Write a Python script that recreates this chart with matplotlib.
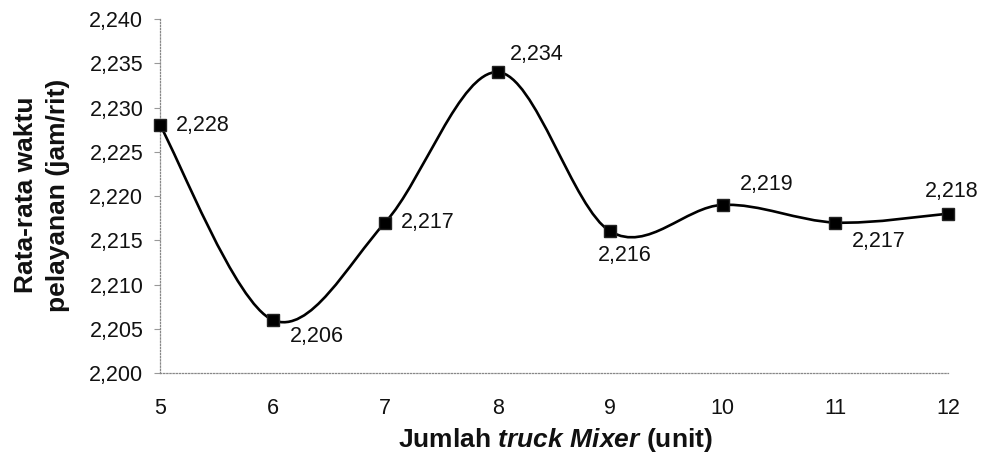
import numpy as np
import matplotlib
matplotlib.use("Agg")
import matplotlib.pyplot as plt
from matplotlib.path import Path
from matplotlib.patches import PathPatch

plt.rcParams['font.family'] = ['Liberation Sans', 'DejaVu Sans']
plt.rcParams['mathtext.fontset'] = 'custom'
plt.rcParams['mathtext.it'] = 'Liberation Sans:bold:italic'
plt.rcParams['mathtext.rm'] = 'Liberation Sans:bold'
plt.rcParams['mathtext.bf'] = 'Liberation Sans:bold'

# Data
jumlah_truck = [5, 6, 7, 8, 9, 10, 11, 12]
rata_waktu = [2.228, 2.206, 2.217, 2.234, 2.216, 2.219, 2.217, 2.218]
y_ticks = [2.200, 2.205, 2.210, 2.215, 2.220, 2.225, 2.230, 2.235, 2.240]
x_ticks = [5, 6, 7, 8, 9, 10, 11, 12]

# label placement (pixel offsets, horizontal alignment)
label_pos = [(16, 0, 'left'), (17, -17, 'left'), (16, 0, 'left'), (12, 18, 'left'),
             (-12, -24, 'left'), (17, 20, 'left'), (16, -19, 'left'), (-23, 22, 'left')]

fig = plt.figure(figsize=(9.84, 4.63), dpi=100)
ax = fig.add_axes([160/984, 1-373/463, 788/984, 354/463])
ax.set_xlim(5, 12)
ax.set_ylim(2.200, 2.240)

# Smoothed line: Catmull-Rom segments as cubic Beziers, computed in axes-scaled space
xs = np.array(jumlah_truck, dtype=float)
ys = np.array(rata_waktu, dtype=float)
sx, sy = 788 / 7.0, 354 / 0.040
P = np.column_stack([xs * sx, ys * sy])
verts = [tuple(P[0])]
codes = [Path.MOVETO]
n = len(P)
for i in range(n - 1):
    p0 = P[i - 1] if i > 0 else P[i]
    p1 = P[i]
    p2 = P[i + 1]
    p3 = P[i + 2] if i + 2 < n else P[i + 1]
    c1 = p1 + (p2 - p0) / 6.0
    c2 = p2 - (p3 - p1) / 6.0
    verts += [tuple(c1), tuple(c2), tuple(p2)]
    codes += [Path.CURVE4] * 3
verts = [(vx / sx, vy / sy) for vx, vy in verts]
ax.add_patch(PathPatch(Path(verts, codes), facecolor='none', edgecolor='black',
                       lw=1.9, zorder=2, clip_on=False))

ax.plot(jumlah_truck, rata_waktu, linestyle='none', marker='s', markersize=9,
        color='black', markeredgecolor='#222222', zorder=3, clip_on=False)

for x, y, (dx, dy, ha) in zip(jumlah_truck, rata_waktu, label_pos):
    ax.annotate(f"{y:.3f}".replace('.', ','), (x, y), xytext=(dx, dy),
                textcoords='offset pixels', ha=ha, va='center', fontsize=15.5,
                color='#111111')

ax.set_xticks(x_ticks)
ax.set_xticklabels([str(v) for v in x_ticks])
ax.set_yticks(y_ticks)
ax.set_yticklabels([f"{v:.3f}".replace('.', ',') for v in y_ticks])
ax.tick_params(axis='x', length=0, pad=18, labelsize=15.5, colors='#111111')
ax.tick_params(axis='y', length=4, width=0.8, color='#999999', pad=8,
               labelsize=15.5, labelcolor='#111111')

for s in ['top', 'right']:
    ax.spines[s].set_visible(False)
for s in ['left', 'bottom']:
    ax.spines[s].set_linestyle((0, (1, 1.5)))
    ax.spines[s].set_color('#888888')
    ax.spines[s].set_linewidth(0.9)

fig.text(42/984, 1-195/463, "Rata-rata waktu\npelayanan (jam/rit)", rotation=90,
         ha='center', va='center', multialignment='center', fontsize=19,
         fontweight='bold', linespacing=1.45, color='#111111')
fig.text(555/984, 1-440/463, "Jumlah $\\mathit{truck\\ Mixer}$ (unit)",
         ha='center', va='center', fontsize=19, fontweight='bold', color='#111111')

fig.savefig('out.png', dpi=100)
